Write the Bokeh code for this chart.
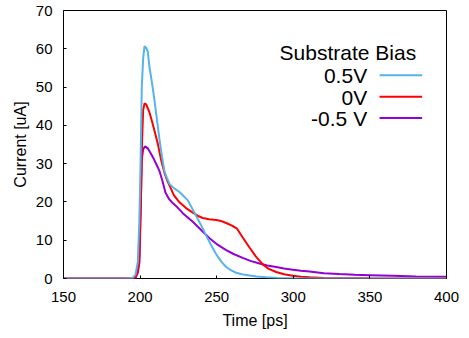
from bokeh.plotting import figure
from bokeh.models import Label, Range1d, FixedTicker
from bokeh.embed import file_html
from bokeh.resources import INLINE

# ---- data ----
t_pos = [150, 190, 195, 197, 198.5, 199.5, 200.3, 201.1, 202, 202.9, 204, 205,
         206.1, 207.8, 209.4, 211, 212.7, 214.3, 215.9, 217.5, 219.2, 222, 225.7,
         228.5, 231.2, 234, 236.6, 240, 243.1, 246.5, 249.7, 253, 256.2, 259.5,
         262.7, 266.5, 271.4, 276, 282.3, 290, 300, 320, 350, 400]
i_pos = [0, 0, 0.1, 1.0, 4.3, 15, 30, 50, 57.5, 60.7, 60.2, 59.3,
         55.3, 51, 46.5, 41.5, 36.2, 31.8, 28.0, 26.3, 24.7, 23.6, 22.6,
         21.5, 20.4, 18.3, 16.3, 13.8, 11.2, 8.6, 6.3, 4.4, 3.0, 2.1,
         1.5, 1.1, 0.8, 0.5, 0.3, 0.15, 0.05, 0, 0, 0]

t_zero = [150, 195, 197, 198.5, 199.5, 200.5, 201.3, 202, 202.9, 204, 206.1,
          207.8, 209.4, 211.6, 213.8, 215.9, 217.5, 219.2, 222, 225.7, 230, 234.4,
          237.5, 240.9, 245, 249.7, 253, 256.2, 260, 263.3, 267, 271.4, 275.5,
          280.1, 284, 288.8, 294, 299.7, 305, 310.6, 320, 350, 400]
i_zero = [0, 0, 0.3, 2.0, 6.0, 20, 36, 44, 45.7, 45.5, 43.4,
          41.0, 38.6, 35.1, 30.8, 27.6, 25.8, 24.3, 21.8, 19.9, 18.4, 17.2,
          16.4, 15.8, 15.5, 15.3, 15.0, 14.5, 13.8, 13.0, 10.7, 8.1, 5.8,
          3.7, 2.5, 1.7, 1.1, 0.7, 0.45, 0.3, 0.15, 0.05, 0]

t_neg = [150, 195, 197, 198.5, 199.6, 200.4, 201.1, 202, 203.3, 205, 207.2,
         209, 210.5, 211.6, 212.7, 214.5, 216.6, 219, 221.3, 223.6, 228, 234.4,
         240, 245.3, 250, 256.2, 261, 267, 272, 277.9, 283, 288.8, 294, 299.7,
         305, 310.6, 320, 330, 340, 350, 365, 380, 400]
i_neg = [0, 0, 0.2, 1.5, 4.3, 18, 31, 33.8, 34.5, 34.0, 32.5,
         31.2, 29.9, 29.0, 28.0, 25.6, 22.4, 20.7, 19.7, 18.9, 17.0, 14.8,
         12.6, 10.5, 9.0, 7.4, 6.4, 5.4, 4.6, 3.9, 3.4, 3.0, 2.6, 2.3,
         2.0, 1.8, 1.4, 1.15, 0.95, 0.85, 0.7, 0.55, 0.45]

series_labels = ["0.5V", "0V", "-0.5 V"]
series_colors = ["#56B4E9", "#FF0000", "#9400D3"]
legend_title = "Substrate Bias"

x_ticks = [150, 200, 250, 300, 350, 400]
y_ticks = [0, 10, 20, 30, 40, 50, 60, 70]

FONT = "Liberation Sans"

p = figure(width=468, height=337, frame_width=383, frame_height=268,
           min_border_left=63, min_border_right=22, min_border_top=10,
           min_border_bottom=59,
           x_range=Range1d(150, 400), y_range=Range1d(0, 70),
           output_backend="svg", toolbar_location=None)

p.background_fill_color = "white"
p.border_fill_color = "white"
p.outline_line_color = "black"
p.outline_line_width = 1
p.grid.visible = False

for ax in (p.xaxis[0], p.yaxis[0]):
    ax.axis_line_color = None
    ax.major_tick_in = 3
    ax.major_tick_out = 0
    ax.major_tick_line_color = "black"
    ax.minor_tick_line_color = None
    ax.major_label_text_font = FONT
    ax.major_label_text_font_size = "15px"
    ax.major_label_text_color = "black"
    ax.axis_label_text_font = FONT
    ax.axis_label_text_font_size = "16px"
    ax.axis_label_text_font_style = "normal"
    ax.axis_label_text_color = "black"

p.xaxis.ticker = FixedTicker(ticks=x_ticks)
p.yaxis.ticker = FixedTicker(ticks=y_ticks)
p.xaxis.axis_label = "Time [ps]"
p.yaxis.axis_label = "Current [uA]"
p.xaxis.major_label_standoff = 13
p.yaxis.major_label_standoff = 11
p.xaxis.axis_label_standoff = 7
p.yaxis.axis_label_standoff = 4

# curves (purple drawn first, blue on top)
p.line(t_neg, i_neg, line_color=series_colors[2], line_width=2)
p.line(t_zero, i_zero, line_color=series_colors[1], line_width=2)
p.line(t_pos, i_pos, line_color=series_colors[0], line_width=2)

# ---- legend (gnuplot style: label right-aligned, key to the right) ----
leg_text_x = 348.2          # right edge of labels (data x)
leg_key_x0, leg_key_x1 = 356.3, 384.1
leg_title_pos = (380.2, 59.0)
leg_rows_y = [52.9, 47.3, 41.7]

p.add_layout(Label(x=leg_title_pos[0], y=leg_title_pos[1], text=legend_title,
                   text_font=FONT, text_font_size="21px", text_align="right",
                   text_baseline="middle", text_color="black"))
for lab, col, yy in zip(series_labels, series_colors, leg_rows_y):
    p.add_layout(Label(x=leg_text_x, y=yy, text=lab, text_font=FONT,
                       text_font_size="21px", text_align="right",
                       text_baseline="middle", text_color="black"))
    p.segment(x0=[leg_key_x0], y0=[yy + 0.2], x1=[leg_key_x1], y1=[yy + 0.2],
              line_color=col, line_width=2)

open("out.html", "w").write(file_html(p, INLINE))
